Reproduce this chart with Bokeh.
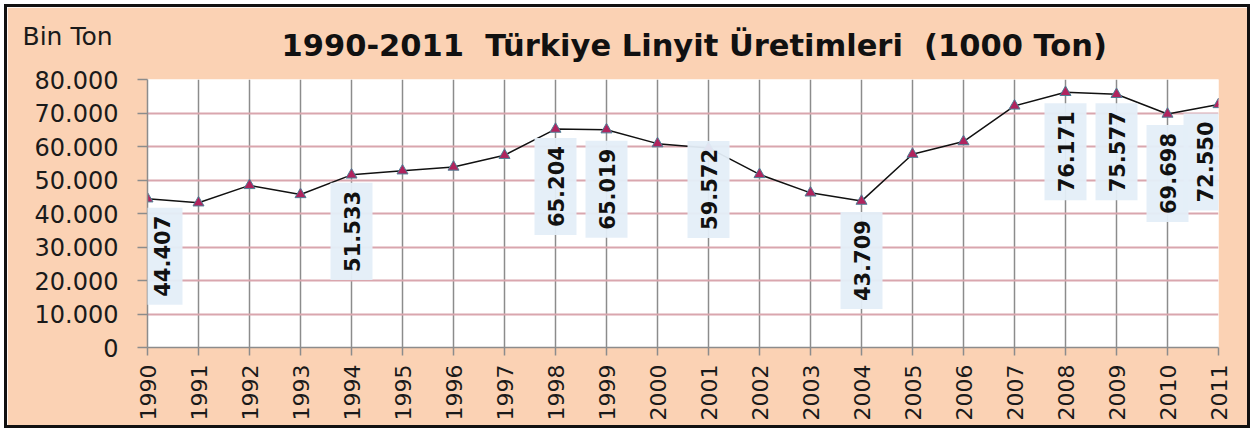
import math

from bokeh.embed import file_html
from bokeh.models import FixedTicker, Label, Range1d, Title
from bokeh.plotting import figure
from bokeh.resources import INLINE

# Yearly lignite production in Türkiye, thousand tonnes
years = [1990, 1991, 1992, 1993, 1994, 1995, 1996, 1997, 1998, 1999, 2000,
         2001, 2002, 2003, 2004, 2005, 2006, 2007, 2008, 2009, 2010, 2011]
production = [44407, 43207, 48388, 45685, 51533, 52758, 53888, 57387, 65204,
              65019, 60854, 59572, 51660, 46168, 43709, 57708, 61484, 72121,
              76171, 75577, 69698, 72550]

# Years that carry a value label
labelled_years = [1990, 1994, 1998, 1999, 2001, 2004, 2008, 2009, 2010, 2011]

y_ticks = [0, 10000, 20000, 30000, 40000, 50000, 60000, 70000, 80000]
y_tick_labels = ["0", "10.000", "20.000", "30.000", "40.000", "50.000",
                 "60.000", "70.000", "80.000"]

title_text = "1990-2011\u00a0 Türkiye Linyit Üretimleri \u00a0(1000 Ton)"
unit_text = "Bin Ton"

# Label placement: gap (px) from marker down to the label box,
# and a sideways nudge for the two labels sitting on the frame edges
label_gap = {1990: 9, 1994: 8, 1998: 9, 1999: 11, 2001: -7, 2004: 11,
             2008: 11, 2009: 9, 2010: 11, 2011: 9}
label_nudge = {1990: 14, 2011: -14}

PEACH = "#FBD2B4"
FONT = "DejaVu Sans"

p = figure(
    width=1240, height=418,
    output_backend="svg", toolbar_location=None,
    x_range=Range1d(1990, 2011), y_range=Range1d(0, 80000),
    min_border_left=140, min_border_right=29,
    min_border_top=72, min_border_bottom=78,
    background_fill_color="white", border_fill_color=PEACH,
    outline_line_color=None,
    styles={"outline": "3px solid #111111", "margin": "7px 0 0 7px"},
)

# Main title, next to the plot frame
p.add_layout(Title(
    text=title_text, text_font=FONT, text_font_style="bold",
    text_font_size="30.5px", text_color="#111111",
    align="left", offset=134, standoff=34,
), "above")

# Unit caption in the top-left corner (takes no room of its own)
p.add_layout(Title(
    text=unit_text, text_font=FONT, text_font_style="normal",
    text_font_size="25px", text_color="#1a1a1a",
    align="left", offset=-125, standoff=-84,
), "above")

# Axes
p.xaxis.ticker = FixedTicker(ticks=years)
p.xaxis.major_label_orientation = math.pi / 2
p.xaxis.major_label_text_font = FONT
p.xaxis.major_label_text_font_size = "22px"
p.xaxis.major_label_text_color = "#1a1a1a"
p.xaxis.major_label_standoff = 9
p.xaxis.major_tick_out = 8
p.xaxis.major_tick_in = 0
p.xaxis.minor_tick_line_color = None
p.xaxis.axis_line_color = "#8c8c8c"
p.xaxis.major_tick_line_color = "#8c8c8c"
p.xaxis.axis_line_width = 1.5
p.xaxis.major_tick_line_width = 1.5

p.yaxis.ticker = FixedTicker(ticks=y_ticks)
p.yaxis.major_label_overrides = dict(zip(y_ticks, y_tick_labels))
p.yaxis.major_label_text_font = FONT
p.yaxis.major_label_text_font_size = "24px"
p.yaxis.major_label_text_color = "#1a1a1a"
p.yaxis.major_label_standoff = 19
p.yaxis.major_tick_out = 10
p.yaxis.major_tick_in = 0
p.yaxis.minor_tick_line_color = None
p.yaxis.axis_line_color = "#8c8c8c"
p.yaxis.major_tick_line_color = "#8c8c8c"
p.yaxis.axis_line_width = 1.5
p.yaxis.major_tick_line_width = 1.5

# Grid
p.xgrid.grid_line_color = "#8c8c8c"
p.xgrid.grid_line_width = 1.5
p.ygrid.grid_line_color = "#d9a6ae"
p.ygrid.grid_line_width = 2

# Series
p.line(years, production, line_color="#111111", line_width=1.5)
p.scatter(years, production, marker="triangle", size=11,
          fill_color="#b0245e", line_color="#4f7f96", line_width=1)

# Value labels, written vertically below their markers
for yr, val in zip(years, production):
    if yr not in labelled_years:
        continue
    p.add_layout(Label(
        x=yr, y=val, x_offset=label_nudge.get(yr, 0), y_offset=-label_gap[yr],
        text=f"{val / 1000:.3f}", angle=math.pi / 2,
        text_align="right", text_baseline="middle",
        text_font=FONT, text_font_style="bold", text_font_size="21px",
        text_color="#111111",
        background_fill_color="#e4eef8", background_fill_alpha=0.95,
        padding={"left": 8, "right": 8, "top": 13, "bottom": 13},
    ))

open("out.html", "w").write(file_html(p, INLINE))
